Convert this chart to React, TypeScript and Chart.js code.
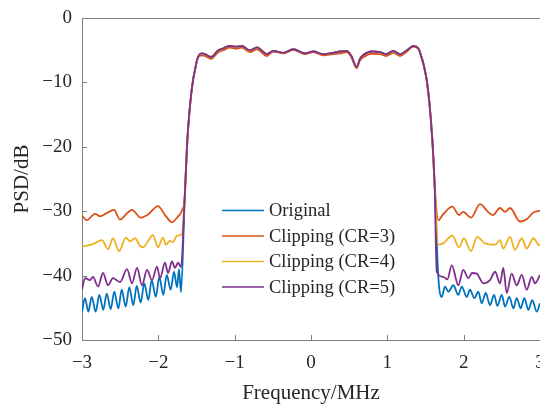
import React, { useEffect, useRef } from "react";
import { Chart, registerables } from "chart.js";

Chart.register(...registerables);

const seriesNames = ["Original", "Clipping (CR=3)", "Clipping (CR=4)", "Clipping (CR=5)"];
const seriesColors = ["#0072BD", "#D95319", "#EDB120", "#7E2F8E"];

const xMin = -3;
const xMax = 3;
const yMin = -50;
const yMax = 0;

// Left sidebands
const origLeftFreq = [-3.0, -2.961, -2.917, -2.873, -2.821, -2.773, -2.721, -2.676, -2.624, -2.577, -2.524, -2.48, -2.428, -2.38, -2.328, -2.283, -2.231, -2.184, -2.131, -2.087, -2.034, -1.987, -1.935, -1.89, -1.838, -1.795, -1.755, -1.729, -1.703];
const origLeftPsd = [-45.6, -43.5, -45.6, -43.3, -45.6, -43.0, -45.3, -42.8, -45.2, -42.5, -45.1, -42.2, -44.8, -41.8, -44.6, -41.6, -44.2, -41.2, -43.8, -40.7, -43.3, -40.2, -43.0, -39.9, -42.2, -39.4, -41.8, -39.0, -42.6];

const cr3LeftFreq = [-3.0, -2.939, -2.83, -2.764, -2.677, -2.581, -2.502, -2.4, -2.345, -2.231, -2.135, -2.004, -1.912, -1.821, -1.74, -1.69];
const cr3LeftPsd = [-30.7, -31.4, -30.4, -30.8, -30.3, -29.8, -31.3, -30.2, -29.8, -31.0, -30.5, -29.2, -30.6, -31.7, -30.8, -29.9];

const cr4LeftFreq = [-3.0, -2.856, -2.738, -2.659, -2.594, -2.515, -2.424, -2.371, -2.306, -2.24, -2.201, -2.07, -2.004, -1.939, -1.9, -1.847, -1.808, -1.755, -1.69];
const cr4LeftPsd = [-35.5, -35.1, -34.5, -35.9, -34.2, -36.2, -34.1, -34.7, -34.2, -35.4, -35.6, -33.7, -35.6, -34.1, -35.2, -34.6, -34.8, -33.8, -33.5];

const cr5LeftFreq = [-3.0, -2.961, -2.895, -2.856, -2.79, -2.725, -2.659, -2.594, -2.502, -2.41, -2.345, -2.279, -2.214, -2.148, -2.083, -2.017, -1.978, -1.913, -1.873, -1.821, -1.782, -1.742, -1.703];
const cr5LeftPsd = [-42.2, -40.4, -40.7, -40.2, -41.7, -39.6, -41.5, -40.4, -41.0, -39.0, -41.2, -38.8, -41.5, -39.1, -40.7, -38.6, -40.4, -38.0, -39.6, -37.8, -38.8, -38.0, -38.7];

// Band edges
const riseFreq = [-1.655, -1.62, -1.58, -1.545, -1.52, -1.49];
const risePsd = [-28, -19, -13, -9.6, -8.1, -6.4];
const fallFreq = [1.44, 1.47, 1.5, 1.52, 1.55, 1.59, 1.62];
const fallPsd = [-5.8, -7.0, -8.6, -10, -13, -19, -26];

// In-band
const bandFreq = [-1.432, -1.389, -1.31, -1.214, -1.149, -1.061, -0.982, -0.908, -0.799, -0.707, -0.58, -0.494, -0.363, -0.232, -0.079, 0.03, 0.161, 0.292, 0.38, 0.468, 0.524, 0.599, 0.642, 0.685, 0.795, 0.904, 0.983, 1.078, 1.166, 1.258, 1.34, 1.406];
const bandUpperPsd = [-5.5, -5.6, -6.05, -5.0, -4.7, -4.35, -4.45, -4.35, -5.0, -4.55, -5.6, -5.1, -5.4, -4.85, -5.5, -5.2, -5.6, -5.4, -5.2, -5.1, -5.8, -7.6, -6.3, -5.75, -5.2, -5.3, -5.6, -5.1, -5.6, -5.0, -4.35, -4.7];
const bandLowerPsd = [-5.8, -5.9, -6.35, -5.3, -5.0, -4.6, -4.75, -4.6, -5.3, -4.85, -5.9, -5.2, -5.5, -4.95, -5.6, -5.3, -5.8, -5.6, -5.5, -5.3, -6.0, -7.8, -6.6, -6.1, -5.55, -5.6, -5.9, -5.4, -5.9, -5.2, -4.45, -4.8];

// Right sidebands
const origRightFreq = [1.668, 1.712, 1.756, 1.799, 1.865, 1.93, 1.975, 2.04, 2.083, 2.14, 2.192, 2.237, 2.289, 2.345, 2.398, 2.441, 2.499, 2.542, 2.598, 2.651, 2.695, 2.747, 2.795, 2.847, 2.899, 2.957, 3.0];
const origRightPsd = [-40.2, -43.3, -41.7, -42.5, -41.5, -43.0, -41.7, -43.3, -42.2, -43.5, -42.5, -44.3, -42.7, -44.6, -43.0, -44.7, -43.0, -44.8, -43.3, -45.1, -43.5, -45.1, -43.5, -45.3, -43.8, -45.6, -44.3];

const cr3RightFreq = [1.668, 1.73, 1.852, 1.939, 1.995, 2.096, 2.214, 2.319, 2.384, 2.476, 2.542, 2.607, 2.738, 2.83, 2.913, 3.0];
const cr3RightPsd = [-31.4, -30.5, -29.3, -30.6, -30.1, -31.0, -28.9, -30.1, -30.6, -29.5, -30.1, -29.5, -31.6, -31.2, -30.2, -29.9];

const cr4RightFreq = [1.668, 1.73, 1.852, 1.939, 2.004, 2.096, 2.175, 2.28, 2.411, 2.476, 2.519, 2.607, 2.673, 2.761, 2.826, 2.913, 2.978, 3.0];
const cr4RightPsd = [-35.2, -35.0, -33.8, -35.6, -34.2, -36.2, -34.0, -35.0, -35.2, -34.5, -35.8, -34.0, -36.0, -34.2, -35.8, -34.2, -35.2, -35.3];

const cr5RightFreq = [1.647, 1.733, 1.786, 1.844, 1.93, 1.995, 2.061, 2.109, 2.171, 2.257, 2.345, 2.411, 2.476, 2.519, 2.564, 2.629, 2.695, 2.761, 2.826, 2.892, 2.935, 3.0];
const cr5RightPsd = [-39.4, -40.2, -40.6, -38.4, -41.5, -39.1, -40.4, -39.6, -39.7, -41.2, -40.7, -39.4, -41.2, -38.8, -42.7, -39.7, -41.5, -39.9, -42.2, -40.2, -41.2, -39.9];

const FONT = "'Liberation Serif', 'Times New Roman', serif";
const TEXT_COLOR = "#262626";
const AXIS_COLOR = "#7f7f7f";

type Pt = { x: number; y: number };
const toPts = (xs: number[], ys: number[]): Pt[] => xs.map((x, i) => ({ x, y: ys[i] }));

function buildSeries(lf: number[], lp: number[], band: number[], rf: number[], rp: number[]): Pt[] {
  return [
    ...toPts(lf, lp),
    ...toPts(riseFreq, risePsd),
    ...toPts(bandFreq, band),
    ...toPts(fallFreq, fallPsd),
    ...toPts(rf, rp),
  ];
}

const minus = (v: number) => String(v).replace("-", "\u2212");

const framePlugin = {
  id: "frameAndLegend",
  afterDatasetsDraw(chart: any) {
    const { ctx, chartArea } = chart;
    const { left, right, top, bottom } = chartArea;
    const xs = chart.scales.x;
    const ys = chart.scales.y;
    ctx.save();
    ctx.strokeStyle = AXIS_COLOR;
    ctx.lineWidth = 1;
    ctx.beginPath();
    ctx.moveTo(left, top + 0.5);
    ctx.lineTo(right, top + 0.5);
    xs.ticks.forEach((t: any) => {
      const px = Math.round(xs.getPixelForValue(t.value)) + 0.5;
      ctx.moveTo(px, bottom);
      ctx.lineTo(px, bottom - 5);
    });
    ys.ticks.forEach((t: any) => {
      const py = Math.round(ys.getPixelForValue(t.value)) + 0.5;
      ctx.moveTo(left, py);
      ctx.lineTo(left + 5, py);
    });
    ctx.stroke();

    // Legend
    const lx0 = left + 140;
    const lx1 = lx0 + 42;
    const tx = lx1 + 5;
    const y0 = top + 192.5;
    const rowH = 25.5;
    ctx.font = `18.5px ${FONT}`;
    ctx.textBaseline = "middle";
    ctx.textAlign = "left";
    chart.data.datasets.forEach((ds: any, i: number) => {
      const yy = y0 + i * rowH;
      ctx.strokeStyle = ds.borderColor;
      ctx.lineWidth = 1.6;
      ctx.beginPath();
      ctx.moveTo(lx0, yy);
      ctx.lineTo(lx1, yy);
      ctx.stroke();
      ctx.fillStyle = TEXT_COLOR;
      ctx.fillText(ds.label, tx, yy + 1);
    });
    ctx.restore();
  },
};

export default function App() {
  const ref = useRef<HTMLCanvasElement | null>(null);

  useEffect(() => {
    if (!ref.current) return;
    const data = [
      buildSeries(origLeftFreq, origLeftPsd, bandUpperPsd, origRightFreq, origRightPsd),
      buildSeries(cr3LeftFreq, cr3LeftPsd, bandLowerPsd, cr3RightFreq, cr3RightPsd),
      buildSeries(cr4LeftFreq, cr4LeftPsd, bandUpperPsd, cr4RightFreq, cr4RightPsd),
      buildSeries(cr5LeftFreq, cr5LeftPsd, bandUpperPsd, cr5RightFreq, cr5RightPsd),
    ];
    const chart = new Chart(ref.current, {
      type: "line",
      data: {
        datasets: data.map((d, i) => ({
          label: seriesNames[i],
          data: d,
          order: data.length - i,
          borderColor: seriesColors[i],
          backgroundColor: seriesColors[i],
          borderWidth: 1.8,
          pointRadius: 0,
          fill: false,
          cubicInterpolationMode: "monotone" as const,
        })),
      },
      options: {
        responsive: false,
        animation: false,
        events: [],
        layout: { padding: { top: 18, left: 0, right: 0, bottom: 0 } },
        plugins: { legend: { display: false }, tooltip: { enabled: false } },
        scales: {
          x: {
            type: "linear",
            min: xMin,
            max: xMax,
            grid: { display: false, drawTicks: false },
            border: { display: true, color: AXIS_COLOR, width: 1 },
            ticks: {
              stepSize: 1,
              padding: 12,
              color: TEXT_COLOR,
              font: { family: FONT, size: 19 },
              maxRotation: 0,
              autoSkip: false,
              callback: (v: any) => minus(v),
            },
            title: {
              display: true,
              text: "Frequency/MHz",
              color: TEXT_COLOR,
              font: { family: FONT, size: 21 },
              padding: { top: 0, bottom: 1 },
            },
            afterFit: (s: any) => {
              s.height = 67;
              s.paddingLeft = 0;
              s.paddingRight = 0;
            },
          },
          y: {
            type: "linear",
            min: yMin,
            max: yMax,
            grid: { display: false, drawTicks: false },
            border: { display: true, color: AXIS_COLOR, width: 1 },
            ticks: {
              stepSize: 10,
              padding: 10,
              color: TEXT_COLOR,
              font: { family: FONT, size: 19 },
              callback: (v: any) => minus(v),
            },
            title: {
              display: true,
              text: "PSD/dB",
              color: TEXT_COLOR,
              font: { family: FONT, size: 21 },
              padding: { top: 10, bottom: 0 },
            },
            afterFit: (s: any) => {
              s.width = 82;
              s.paddingTop = 0;
              s.paddingBottom = 0;
            },
          },
        },
      },
      plugins: [framePlugin],
    });
    return () => chart.destroy();
  }, []);

  return (
    <div style={{ position: "absolute", left: 0, top: 0, width: 540, height: 407, background: "#fff" }}>
      <canvas ref={ref} width={540} height={407} style={{ width: 540, height: 407, display: "block" }} />
    </div>
  );
}
